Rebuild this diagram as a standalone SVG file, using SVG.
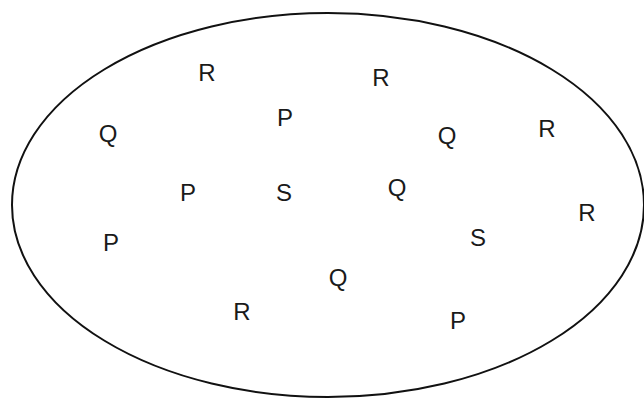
<svg xmlns="http://www.w3.org/2000/svg" width="644" height="400" viewBox="0 0 644 400">
<style>
text{font-family:"Liberation Sans",Arial,sans-serif;font-size:24px;fill:#1a1a1a;text-anchor:middle}
</style>
<rect width="644" height="400" fill="#fff"/>
<g id="set">
<ellipse cx="328" cy="205" rx="316" ry="192" fill="none" stroke="#111" stroke-width="2"/>
</g>
<g id="letters">
<text x="207" y="81">R</text>
<text x="381" y="86">R</text>
<text x="285" y="126">P</text>
<text x="108" y="142">Q</text>
<text x="447" y="144">Q</text>
<text x="547" y="137">R</text>
<text x="188" y="201">P</text>
<text x="284" y="201">S</text>
<text x="397" y="196">Q</text>
<text x="587" y="221">R</text>
<text x="478" y="246">S</text>
<text x="111" y="251">P</text>
<text x="338" y="286">Q</text>
<text x="242" y="320">R</text>
<text x="458" y="329">P</text>
</g>
</svg>
